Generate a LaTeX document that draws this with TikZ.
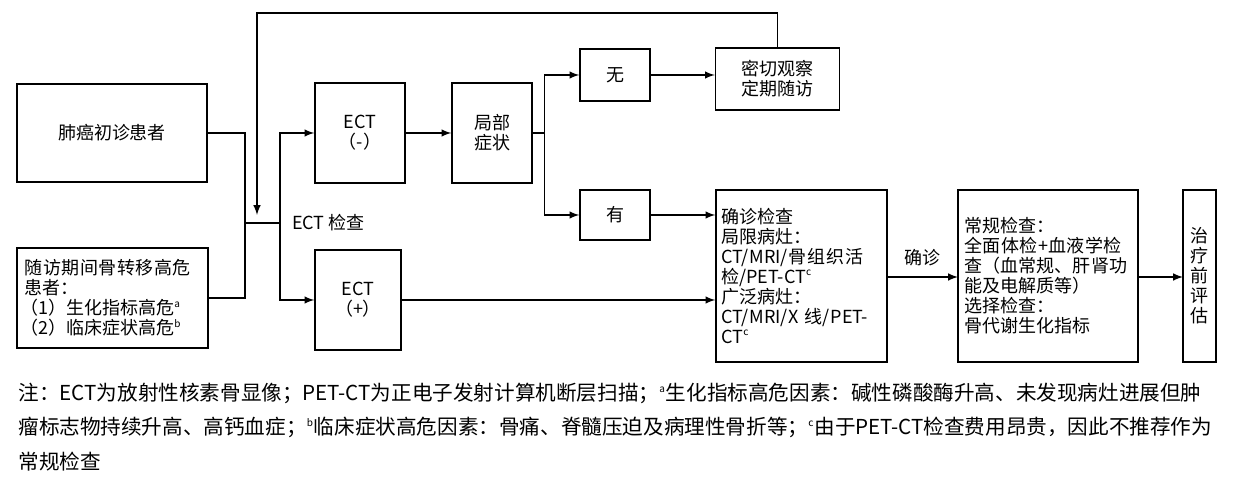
\documentclass[tikz,border=0pt]{standalone}
\usepackage{fontspec}
\setmainfont{Noto Sans CJK SC}
\XeTeXlinebreaklocale "zh"
\XeTeXlinebreakskip=0pt plus 1pt
\usetikzlibrary{arrows, positioning}
\tikzset{
	% standard arrow tip
	>=latex,
	% boxes of the flow chart
	box/.style={
		draw,
		line width=0.7pt,
		inner sep=2pt,
		font=\fontsize{9}{10}\selectfont
	},
	pil/.style={
		->,
		line width=0.7pt
	},
	lin/.style={
		line width=0.7pt
	}
}
\newcommand{\sups}[1]{\textsuperscript{\tiny #1}}

\begin{document}
\begin{tikzpicture}[x=0.5pt, y=-0.5pt]
\useasboundingbox (0,0) rectangle (1239,480);

\node[box, minimum width=95pt, minimum height=49pt] at (112,133) (first) {肺癌初诊患者};
\node[box, minimum width=95.5pt, minimum height=50pt, text width=88pt, align=left] at (112.5,298) (risk) {随访期间骨转移高危患者：\\\hspace*{-2pt}（1）生化指标高危\sups{a}\\\hspace*{-2pt}（2）临床症状高危\sups{b}};
\node[box, minimum width=45pt, minimum height=50pt, align=center] at (360,133) (neg) {ECT\\（-）};
\node[box, minimum width=43pt, minimum height=50pt, align=center] at (358,300) (pos) {ECT\\（+）};
\node[box, minimum width=40pt, minimum height=50pt, align=center] at (492,133) (local) {局部\\症状};
\node[box, minimum width=35pt, minimum height=26pt] at (615,75) (no) {无};
\node[box, minimum width=35pt, minimum height=25pt] at (615,215) (yes) {有};
\node[box, minimum width=62pt, minimum height=31pt, align=left] at (777.5,79) (watch) {密切观察\\定期随访};
\node[box, minimum width=85.5pt, minimum height=86pt, text width=80pt, align=left] at (801.5,276) (confirm) {确诊检查\\局限病灶：\\CT/MRI/骨组织活检/PET-CT\sups{c}\\广泛病灶：\\CT/MRI/X 线/PET-CT\sups{c}};
\node[box, minimum width=90pt, minimum height=86pt, text width=84pt, align=left] at (1048,276) (routine) {常规检查：\\全面体检+血液学检查（血常规、肝肾功能及电解质等）\\选择检查：\\骨代谢生化指标};
\node[box, minimum width=16.5pt, minimum height=86pt, text width=9pt, align=center, inner sep=1pt] at (1199.5,276) (eval) {治\\疗\\前\\评\\估};

\node[font=\fontsize{9}{10}\selectfont, anchor=west] at (285,223) (ectlbl) {ECT 检查};
\node[font=\fontsize{9}{10}\selectfont] at (922,258) (dx) {确诊};

\coordinate (j1) at (245,223);
\coordinate (j2) at (280,223);
\coordinate (top) at (257,215);
\coordinate (r1) at (887,277);
\coordinate (r2) at (958,277);
\coordinate (r3) at (1138,277);
\coordinate (r4) at (1183,277);

% inputs join
\draw[lin] (first.east) -| (j1) |- (risk.east);
\draw[lin] (j1) -- (j2);
\draw[pil] (j2) |- (neg.west);
\draw[pil] (j2) |- (pos.west);

% negative branch
\draw[pil] (neg) -- (local);
\draw[lin] (local.east) -- ++(11.5,0) coordinate (b) ;
\draw[pil] (b) |- (no.west);
\draw[pil] (b) |- (yes.west);
\draw[pil] (no) -- (watch.west |- no);
\draw[pil] (watch.north) |- (257,13) -- (top);
\draw[pil] (yes) -- (confirm.west |- yes);

% positive branch
\draw[pil] (pos.east) -- (confirm.west |- pos.east);
\draw[pil] (r1) -- (r2);
\draw[pil] (r3) -- (r4);

% notes
\node[anchor=west, font=\fontsize{10.3}{12}\selectfont, inner sep=0] at (18,393) (n1) {注：ECT为放射性核素骨显像；PET-CT为正电子发射计算机断层扫描；\sups{a}生化指标高危因素：碱性磷酸酶升高、未发现病灶进展但肿};
\node[anchor=west, font=\fontsize{10.3}{12}\selectfont, inner sep=0] at (18,427) (n2) {瘤标志物持续升高、高钙血症；\sups{b}临床症状高危因素：骨痛、脊髓压迫及病理性骨折等；\sups{c}由于PET-CT检查费用昂贵，因此不推荐作为};
\node[anchor=west, font=\fontsize{10.3}{12}\selectfont, inner sep=0] at (18,462) (n3) {常规检查};
\end{tikzpicture}
\end{document}
